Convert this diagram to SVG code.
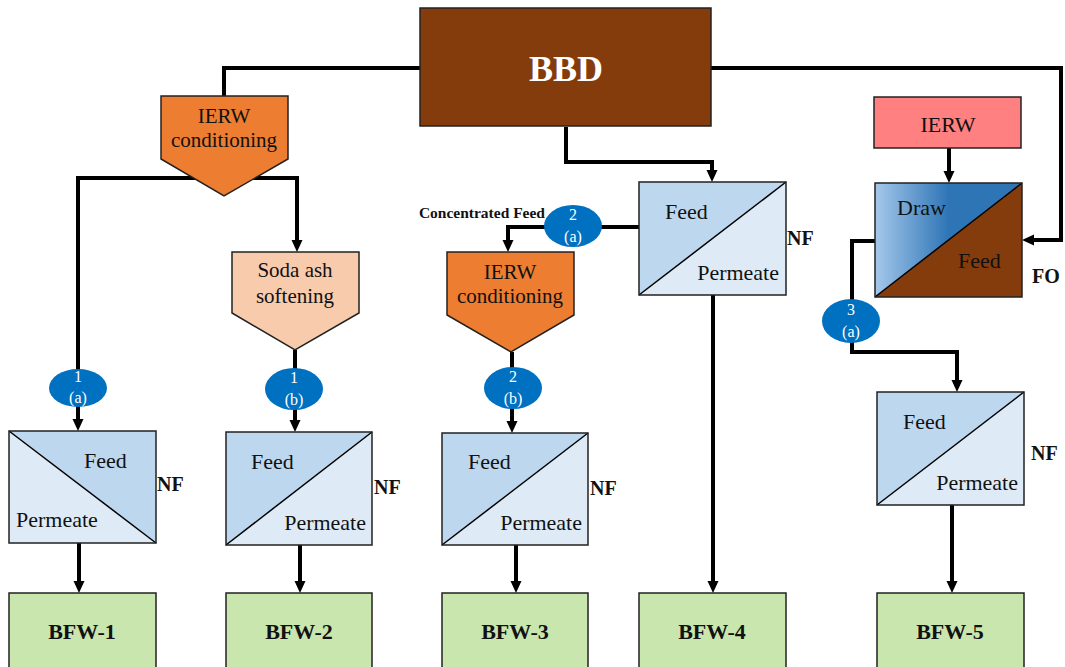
<svg xmlns="http://www.w3.org/2000/svg" width="1065" height="667" viewBox="0 0 1065 667">
<style>
.conn{fill:none;stroke:#000;stroke-width:4}
.box{stroke:#222;stroke-width:1.5}
.t{font-family:"Liberation Serif","Times New Roman",serif;fill:#111}
.m{font-size:21px}
.b{font-weight:bold}
.ov{fill:#0070C0}
.ot{font-family:"Liberation Serif","Times New Roman",serif;font-size:16px;fill:#fff;text-anchor:middle}
.bfw{fill:#C9E6AE;stroke:#222;stroke-width:1.5}
.dk{fill:#BDD7EE}
.lt{fill:#DEEBF7}
</style>
<defs>
<marker id="ah" markerUnits="userSpaceOnUse" markerWidth="12" markerHeight="12" viewBox="0 0 12 12" refX="4" refY="6" orient="auto">
<path d="M0,0.5 L12,6 L0,11.5 z" fill="#000"/>
</marker>
<linearGradient id="drawg" x1="0" y1="0" x2="1" y2="0">
<stop offset="0" stop-color="#A5C8EA"/>
<stop offset="0.5" stop-color="#2E75B6"/>
<stop offset="1" stop-color="#2E75B6"/>
</linearGradient>
</defs>

<g id="connectors">
<path class="conn" d="M420,68 H224 V96"/>
<path class="conn" d="M200,178 H78 V423" marker-end="url(#ah)"/>
<path class="conn" d="M250,178 H297 V244" marker-end="url(#ah)"/>
<path class="conn" d="M295,350 V424" marker-end="url(#ah)"/>
<path class="conn" d="M566,127 V162 H712 V174" marker-end="url(#ah)"/>
<path class="conn" d="M711,68 H1061 V240 H1030" marker-end="url(#ah)"/>
<path class="conn" d="M949,148 V175" marker-end="url(#ah)"/>
<path class="conn" d="M639,227 H508 V244" marker-end="url(#ah)"/>
<path class="conn" d="M512,352 V425" marker-end="url(#ah)"/>
<path class="conn" d="M875,241 H852 V352 H957 V384" marker-end="url(#ah)"/>
<path class="conn" d="M79,543 V585" marker-end="url(#ah)"/>
<path class="conn" d="M300,545 V585" marker-end="url(#ah)"/>
<path class="conn" d="M516,545 V585" marker-end="url(#ah)"/>
<path class="conn" d="M713,295 V585" marker-end="url(#ah)"/>
<path class="conn" d="M952,505 V585" marker-end="url(#ah)"/>
</g>

<g id="bbd">
<rect class="box" x="420" y="8" width="291" height="118" fill="#843C0C"/>
<text class="t b" x="566" y="81" font-size="36" style="fill:#fff" text-anchor="middle">BBD</text>
</g>

<g id="ierw-cond-1">
<polygon class="box" points="161,96 288,96 288,159 224,196 161,159" fill="#ED7D31"/>
<text class="t m" x="224" y="123" text-anchor="middle">IERW</text>
<text class="t m" x="224" y="147" text-anchor="middle">conditioning</text>
</g>

<g id="soda-ash">
<polygon class="box" points="232,252 359,252 359,313 295,350 232,313" fill="#F8CBAD"/>
<text class="t m" x="295" y="277" text-anchor="middle">Soda ash</text>
<text class="t m" x="295" y="303" text-anchor="middle">softening</text>
</g>

<g id="ierw-cond-2">
<polygon class="box" points="447,252 574,252 574,315 511,352 447,315" fill="#ED7D31"/>
<text class="t m" x="510" y="279" text-anchor="middle">IERW</text>
<text class="t m" x="510" y="303" text-anchor="middle">conditioning</text>
</g>

<g id="label-concentrated">
<text class="t b" x="545" y="218" font-size="15.5" text-anchor="end">Concentrated Feed</text>
</g>

<g id="oval-1a"><ellipse class="ov" cx="78" cy="388" rx="29" ry="19"/><text class="ot" x="78" y="382">1</text><text class="ot" x="78" y="403">(a)</text></g>
<g id="oval-1b"><ellipse class="ov" cx="294" cy="389" rx="29" ry="21"/><text class="ot" x="294" y="383">1</text><text class="ot" x="294" y="405">(b)</text></g>
<g id="oval-2a"><ellipse class="ov" cx="573" cy="226" rx="29" ry="21"/><text class="ot" x="573" y="220">2</text><text class="ot" x="573" y="242">(a)</text></g>
<g id="oval-2b"><ellipse class="ov" cx="513" cy="388" rx="29" ry="21"/><text class="ot" x="513" y="382">2</text><text class="ot" x="513" y="404">(b)</text></g>
<g id="oval-3a"><ellipse class="ov" cx="851" cy="321" rx="29" ry="22"/><text class="ot" x="851" y="315">3</text><text class="ot" x="851" y="337">(a)</text></g>

<g id="nf-1">
<rect x="9" y="431" width="147" height="112" class="lt"/>
<polygon points="9,431 156,431 156,543" class="dk"/>
<line x1="9" y1="431" x2="156" y2="543" stroke="#000" stroke-width="1.5"/>
<rect x="9" y="431" width="147" height="112" fill="none" class="box"/>
<text class="t" x="84" y="468" font-size="22">Feed</text>
<text class="t" x="16" y="527" font-size="22">Permeate</text>
<text class="t b" x="157" y="491" font-size="20">NF</text>
</g>

<g id="nf-2">
<rect x="226" y="432" width="146" height="113" class="lt"/>
<polygon points="226,432 372,432 226,545" class="dk"/>
<line x1="226" y1="545" x2="372" y2="432" stroke="#000" stroke-width="1.5"/>
<rect x="226" y="432" width="146" height="113" fill="none" class="box"/>
<text class="t" x="251" y="469" font-size="22">Feed</text>
<text class="t" x="366" y="530" font-size="22" text-anchor="end">Permeate</text>
<text class="t b" x="374" y="494" font-size="20">NF</text>
</g>

<g id="nf-3">
<rect x="442" y="433" width="146" height="112" class="lt"/>
<polygon points="442,433 588,433 442,545" class="dk"/>
<line x1="442" y1="545" x2="588" y2="433" stroke="#000" stroke-width="1.5"/>
<rect x="442" y="433" width="146" height="112" fill="none" class="box"/>
<text class="t" x="468" y="469" font-size="22">Feed</text>
<text class="t" x="582" y="530" font-size="22" text-anchor="end">Permeate</text>
<text class="t b" x="590" y="495" font-size="20">NF</text>
</g>

<g id="nf-4">
<rect x="639" y="182" width="147" height="113" class="lt"/>
<polygon points="639,182 786,182 639,295" class="dk"/>
<line x1="639" y1="295" x2="786" y2="182" stroke="#000" stroke-width="1.5"/>
<rect x="639" y="182" width="147" height="113" fill="none" class="box"/>
<text class="t" x="665" y="219" font-size="22">Feed</text>
<text class="t" x="779" y="280" font-size="22" text-anchor="end">Permeate</text>
<text class="t b" x="787" y="245" font-size="20">NF</text>
</g>

<g id="nf-5">
<rect x="877" y="392" width="147" height="113" class="lt"/>
<polygon points="877,392 1024,392 877,505" class="dk"/>
<line x1="877" y1="505" x2="1024" y2="392" stroke="#000" stroke-width="1.5"/>
<rect x="877" y="392" width="147" height="113" fill="none" class="box"/>
<text class="t" x="903" y="429" font-size="22">Feed</text>
<text class="t" x="1018" y="490" font-size="22" text-anchor="end">Permeate</text>
<text class="t b" x="1031" y="460" font-size="20">NF</text>
</g>

<g id="ierw">
<rect class="box" x="874" y="97" width="147" height="51" fill="#FF8080"/>
<text class="t" x="948" y="132" font-size="22" text-anchor="middle">IERW</text>
</g>

<g id="fo">
<polygon points="875,183 1022,183 875,297" fill="url(#drawg)"/>
<polygon points="1022,183 1022,297 875,297" fill="#843C0C"/>
<line x1="875" y1="297" x2="1022" y2="183" stroke="#000" stroke-width="1.5"/>
<rect x="875" y="183" width="147" height="114" fill="none" class="box"/>
<text class="t" x="897" y="215" font-size="22">Draw</text>
<text class="t" x="958" y="268" font-size="22">Feed</text>
<text class="t b" x="1032" y="283" font-size="20">FO</text>
</g>

<g id="bfw-1"><rect class="bfw" x="9" y="593" width="147" height="80"/><text class="t b" x="82" y="639" font-size="22" text-anchor="middle">BFW-1</text></g>
<g id="bfw-2"><rect class="bfw" x="226" y="593" width="146" height="80"/><text class="t b" x="299" y="639" font-size="22" text-anchor="middle">BFW-2</text></g>
<g id="bfw-3"><rect class="bfw" x="442" y="593" width="146" height="80"/><text class="t b" x="515" y="639" font-size="22" text-anchor="middle">BFW-3</text></g>
<g id="bfw-4"><rect class="bfw" x="639" y="593" width="147" height="80"/><text class="t b" x="712" y="639" font-size="22" text-anchor="middle">BFW-4</text></g>
<g id="bfw-5"><rect class="bfw" x="877" y="593" width="147" height="80"/><text class="t b" x="950" y="639" font-size="22" text-anchor="middle">BFW-5</text></g>
</svg>
